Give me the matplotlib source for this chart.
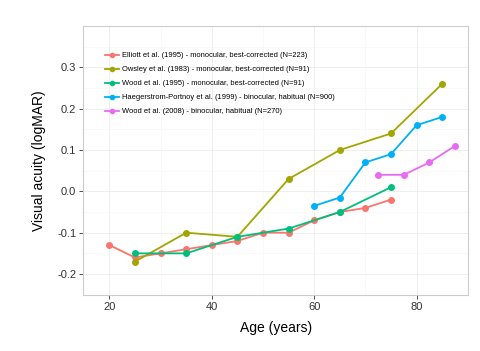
import numpy as np
import matplotlib
matplotlib.use("Agg")
import matplotlib.pyplot as plt
from matplotlib.ticker import MultipleLocator

plt.rcParams['font.family'] = ['Liberation Sans', 'DejaVu Sans']

# study data
elliott_age = [20, 25, 30, 35, 40, 45, 50, 55, 60, 65, 70, 75]
elliott_va = [-0.13, -0.16, -0.15, -0.14, -0.13, -0.12, -0.10, -0.10, -0.07, -0.05, -0.04, -0.02]

owsley_age = [25, 35, 45, 55, 65, 75, 85]
owsley_va = [-0.17, -0.10, -0.11, 0.03, 0.10, 0.14, 0.26]

wood95_age = [25, 35, 45, 55, 65, 75]
wood95_va = [-0.15, -0.15, -0.11, -0.09, -0.05, 0.01]

haeg_age = [60, 65, 70, 75, 80, 85]
haeg_va = [-0.035, -0.015, 0.07, 0.09, 0.16, 0.18]

wood08_age = [72.5, 77.5, 82.5, 87.5]
wood08_va = [0.04, 0.04, 0.07, 0.11]

labels = ["Elliott et al. (1995) - monocular, best-corrected (N=223)",
          "Owsley et al. (1983) - monocular, best-corrected (N=91)",
          "Wood et al. (1995) - monocular, best-corrected (N=91)",
          "Haegerstrom-Portnoy et al. (1999) - binocular, habitual (N=900)",
          "Wood et al. (2008) - binocular, habitual (N=270)"]
colors = ["#F8766D", "#A3A500", "#00BF7D", "#00B0F6", "#E76BF3"]

series = [(elliott_age, elliott_va), (owsley_age, owsley_va), (wood95_age, wood95_va),
          (haeg_age, haeg_va), (wood08_age, wood08_va)]

fig = plt.figure(figsize=(4.81, 3.51), dpi=100)
ax = fig.add_axes([0.1732, 0.1604, 0.8004, 0.7655])

for (x, y), lab, c in zip(series, labels, colors):
    ax.plot(x, y, '-o', color=c, lw=1.3, ms=4, label=lab)

ax.set_xlim(14.9, 90.1)
ax.set_ylim(-0.25, 0.40)
ax.xaxis.set_major_locator(MultipleLocator(20))
ax.xaxis.set_minor_locator(MultipleLocator(10))
ax.set_yticks([-0.2, -0.1, 0.0, 0.1, 0.2, 0.3])
ax.yaxis.set_minor_locator(MultipleLocator(0.05))
ax.set_yticklabels(["-0.2", "-0.1", "0.0", "0.1", "0.2", "0.3"])

ax.grid(which='major', color='#EBEBEB', lw=0.6)
ax.grid(which='minor', color='#F5F5F5', lw=0.4)
ax.set_axisbelow(True)
for s in ax.spines.values():
    s.set_color('#CCCCCC')
    s.set_linewidth(0.8)
ax.tick_params(which='major', length=3, color='#333333', width=0.6,
               labelsize=8, labelcolor='#333333', pad=2)
ax.tick_params(which='minor', length=0)

ax.set_xlabel("Age (years)", fontsize=10, labelpad=7)
ax.set_ylabel("Visual acuity (logMAR)", fontsize=10, labelpad=8)

leg = ax.legend(loc='upper left', bbox_to_anchor=(0.214, 0.858),
                bbox_transform=fig.transFigure, fontsize=5.4, frameon=False,
                handlelength=1.8, handletextpad=0.4, labelspacing=0.9,
                borderaxespad=0, borderpad=0.3, markerscale=0.75)

fig.savefig("out.png", dpi=100)
